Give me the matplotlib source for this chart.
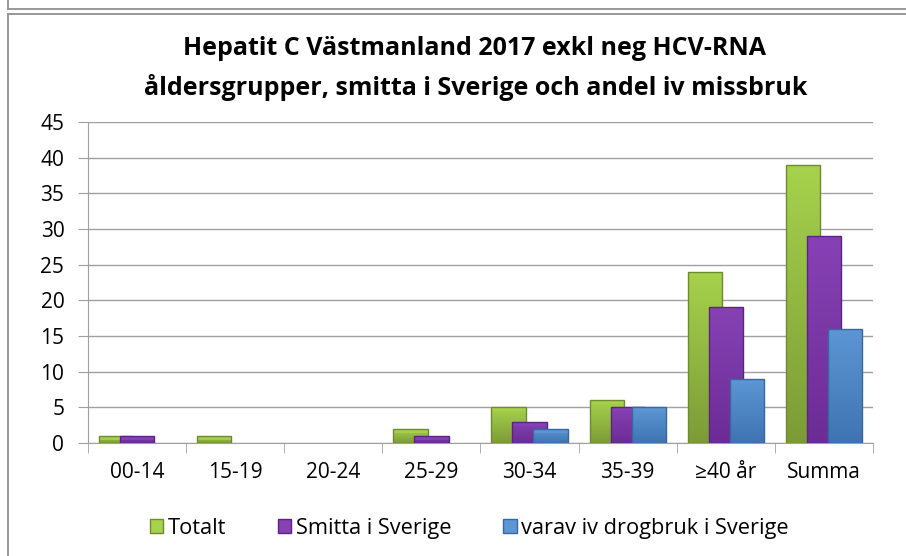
import numpy as np
import matplotlib.pyplot as plt
from matplotlib.patches import Rectangle, Patch
from matplotlib.colors import LinearSegmentedColormap

# Data
categories = ['00-14', '15-19', '20-24', '25-29', '30-34', '35-39', '≥40 år', 'Summa']
totalt = [1, 1, 0, 2, 5, 6, 24, 39]
smitta = [1, 0, 0, 1, 3, 5, 19, 29]
varav = [0, 0, 0, 0, 2, 5, 9, 16]
series_names = ['Totalt', 'Smitta i Sverige', 'varav iv drogbruk i Sverige']

plt.rcParams['font.family'] = ['Open Sans', 'DejaVu Sans']

# (light, dark, edge) per series
colors = [('#a6d24c', '#7c9b37', '#6f8a30'),
          ('#8642b4', '#6c2c96', '#5c2384'),
          ('#5d96d4', '#3f74b2', '#36679f')]

fig = plt.figure(figsize=(9.06, 5.56), dpi=100)
ax = fig.add_axes([0.0971, 0.2032, 0.8665, 0.5774])

# chart frame (left + top border, plus bottom edge of the box above)
frame = '#909090'
def fline(xs, ys):
    fig.lines.append(plt.Line2D(xs, ys, transform=fig.transFigure, color=frame, lw=1.3))
fline([0.009, 0.009], [0.0, 0.975])
fline([0.009, 1.0], [0.975, 0.975])
fline([0.009, 1.0], [0.984, 0.984])
fline([0.009, 0.009], [0.984, 1.0])

x = np.arange(len(categories))
width = 0.35
offsets = [-0.214, 0.0, 0.214]
grad = np.linspace(0, 1, 100).reshape(-1, 1)

for vals, off, (light, dark, edge) in zip([totalt, smitta, varav], offsets, colors):
    cmap = LinearSegmentedColormap.from_list('g', [dark, light])
    for xi, v in zip(x, vals):
        if v == 0:
            continue
        left = xi + off - width / 2
        bg = Rectangle((left, 0), width, v, facecolor=dark, edgecolor='none', zorder=3)
        ax.add_patch(bg)
        im = ax.imshow(grad, cmap=cmap, aspect='auto', origin='lower',
                       extent=(left, left + width, 0, v), zorder=3)
        im.set_clip_path(bg)
        # bevel on top
        ax.add_patch(Rectangle((left, v - 0.55), width, 0.55, facecolor=light,
                               edgecolor='none', alpha=0.9, zorder=3))
        ax.add_patch(Rectangle((left, 0), width, v, facecolor='none',
                               edgecolor=edge, lw=1.0, zorder=3))

ax.set_xlim(-0.5, len(categories) - 0.5)
ax.set_ylim(0, 45)
ax.set_yticks(range(0, 46, 5))
ax.set_xticks(x)
ax.set_xticklabels(categories)
ax.set_xticks(np.arange(-0.5, len(categories)), minor=True)
ax.tick_params(axis='x', which='major', length=0, pad=14, labelsize=15)
ax.tick_params(axis='x', which='minor', length=7, color='#a0a0a0', direction='out')
ax.tick_params(axis='y', length=7, color='#a0a0a0', labelsize=15, pad=10)
ax.grid(axis='y', color='#a0a0a0', lw=1, zorder=0)
ax.set_axisbelow(True)
for s in ['top', 'right']:
    ax.spines[s].set_visible(False)
for s in ['left', 'bottom']:
    ax.spines[s].set_color('#a0a0a0')
ax.set_facecolor('white')

fig.text(0.524, 0.913, 'Hepatit C Västmanland 2017 exkl neg HCV-RNA',
         ha='center', va='center', fontsize=18, fontweight='bold')
fig.text(0.525, 0.843, 'åldersgrupper, smitta i Sverige och andel iv missbruk',
         ha='center', va='center', fontsize=18, fontweight='bold')

handles = [Patch(facecolor=c[0], edgecolor=c[2]) for c in colors]
fig.legend(handles, series_names, loc='center', bbox_to_anchor=(0.518, 0.05),
           ncol=3, frameon=False, fontsize=15.7, handlelength=0.6, handleheight=0.6,
           handletextpad=0.2, columnspacing=2.4, borderpad=0)

fig.savefig('out.png', dpi=100)
